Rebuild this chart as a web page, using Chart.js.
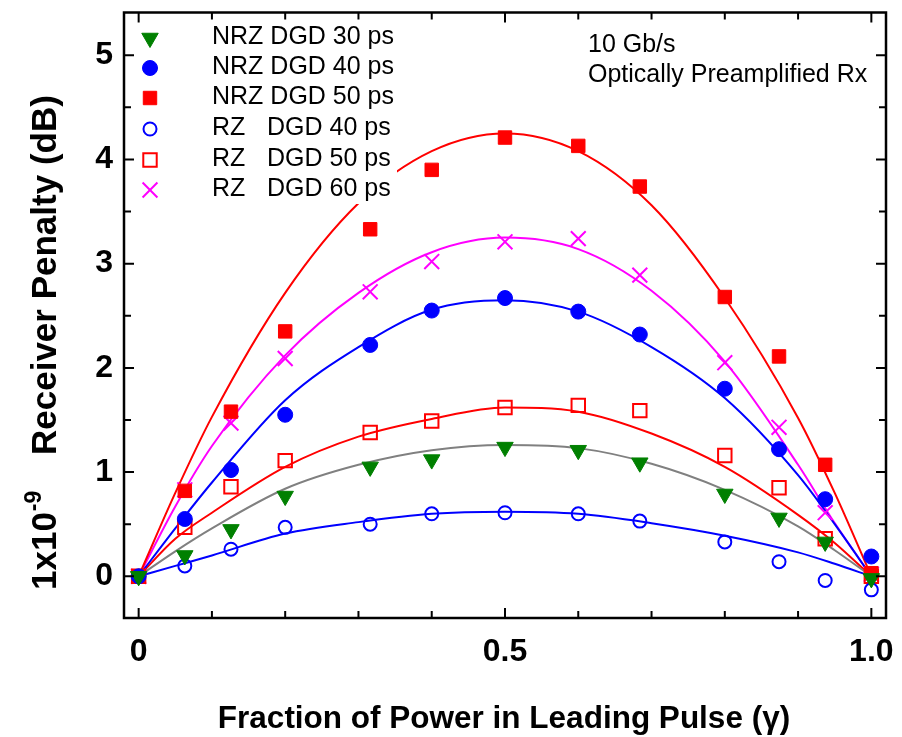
<!DOCTYPE html>
<html>
<head>
<meta charset="utf-8">
<script src="https://cdn.jsdelivr.net/npm/chart.js@4.4.1/dist/chart.umd.min.js"></script>
<style>
  body { margin: 0; background: #fff; }
  #chart { display: block; }
</style>
</head>
<body>
<canvas id="chart" width="902" height="737"></canvas>
<script>
// measured points
var gamma = [0, 0.063, 0.126, 0.2, 0.316, 0.4, 0.5, 0.6, 0.684, 0.8, 0.874, 0.937, 1.0];
var nrz30 = [0, 0.20, 0.45, 0.77, 1.05, 1.12, 1.24, 1.21, 1.09, 0.79, 0.56, 0.33, -0.02];
var nrz40 = [0, 0.55, 1.02, 1.55, 2.22, 2.55, 2.67, 2.54, 2.32, 1.80, 1.22, 0.74, 0.19];
var nrz50 = [0, 0.82, 1.58, 2.35, 3.33, 3.90, 4.21, 4.13, 3.74, 2.68, 2.11, 1.07, 0.03];
var rz40 = [0, 0.10, 0.26, 0.47, 0.50, 0.60, 0.61, 0.60, 0.53, 0.33, 0.14, -0.04, -0.13];
var rz50 = [0, 0.47, 0.86, 1.11, 1.38, 1.49, 1.62, 1.64, 1.59, 1.16, 0.85, 0.36, 0];
var rz60 = [0, 0.83, 1.47, 2.09, 2.73, 3.02, 3.21, 3.24, 2.89, 2.05, 1.43, 0.61, 0.02];

// fitted curves
var fitX = [0, 0.05, 0.1, 0.2, 0.3, 0.4, 0.5, 0.6, 0.7, 0.8, 0.9, 0.95, 1];
var fitNrz30 = [0, 0.24, 0.46, 0.84, 1.07, 1.21, 1.26, 1.23, 1.08, 0.83, 0.48, 0.25, 0];
var fitNrz40 = [0, 0.46, 0.90, 1.69, 2.20, 2.56, 2.65, 2.54, 2.20, 1.71, 0.97, 0.50, 0];
var fitNrz50 = [0, 0.80, 1.53, 2.72, 3.58, 4.08, 4.25, 4.08, 3.56, 2.67, 1.52, 0.80, 0];
var fitRz40 = [0, 0.10, 0.20, 0.41, 0.52, 0.60, 0.62, 0.60, 0.51, 0.39, 0.23, 0.12, 0];
var fitRz50 = [0, 0.36, 0.61, 1.05, 1.34, 1.51, 1.62, 1.58, 1.37, 1.05, 0.59, 0.32, 0];
var fitRz60 = [0, 0.67, 1.25, 2.12, 2.72, 3.11, 3.25, 3.14, 2.74, 2.06, 1.07, 0.51, 0];

var seriesNames = ["NRZ DGD 30 ps", "NRZ DGD 40 ps", "NRZ DGD 50 ps", "RZ   DGD 40 ps", "RZ   DGD 50 ps", "RZ   DGD 60 ps"];
var xTickValues = [0, 0.5, 1];
var xTickLabels = ["0", "0.5", "1.0"];
var yTickValues = [0, 1, 2, 3, 4, 5];

var FONT = "'Liberation Sans', Arial, Helvetica, sans-serif";

function pts(xs, ys) {
    return xs.map(function (x, i) { return { x: x, y: ys[i] }; });
}

function markers(label, ys, style) {
    return Object.assign({
        label: label,
        data: pts(gamma, ys),
        showLine: false,
    }, style);
}

function curve(ys, color) {
    return {
        label: "fit",
        data: pts(fitX, ys),
        showLine: true,
        borderColor: color,
        borderWidth: 2,
        pointRadius: 0,
        cubicInterpolationMode: "monotone",
        fill: false,
    };
}

var markerSets = [
    markers(seriesNames[0], nrz30, { pointStyle: "triangle", rotation: 180, pointRadius: 9.5, backgroundColor: "#008000", borderColor: "#008000", borderWidth: 1 }),
    markers(seriesNames[1], nrz40, { pointStyle: "circle", pointRadius: 7.5, backgroundColor: "#0000ff", borderColor: "#0000ff", borderWidth: 1 }),
    markers(seriesNames[2], nrz50, { pointStyle: "rect", pointRadius: 9.5, backgroundColor: "#ff0000", borderColor: "#ff0000", borderWidth: 1 }),
    markers(seriesNames[3], rz40, { pointStyle: "circle", pointRadius: 6.5, backgroundColor: "rgba(0,0,0,0)", borderColor: "#0000ff", borderWidth: 2 }),
    markers(seriesNames[4], rz50, { pointStyle: "rect", pointRadius: 9.5, backgroundColor: "rgba(0,0,0,0)", borderColor: "#ff0000", borderWidth: 2 }),
    markers(seriesNames[5], rz60, { pointStyle: "crossRot", pointRadius: 10.5, backgroundColor: "#ff00ff", borderColor: "#ff00ff", borderWidth: 2 }),
];

var curveSets = [
    curve(fitNrz30, "#808080"),
    curve(fitNrz40, "#0000ff"),
    curve(fitNrz50, "#ff0000"),
    curve(fitRz40, "#0000ff"),
    curve(fitRz50, "#ff0000"),
    curve(fitRz60, "#ff00ff"),
];

// frame + inward ticks on all four sides
var framePlugin = {
    id: "frame",
    afterDatasetsDraw: function (chart) {
        var c = chart.ctx, a = chart.chartArea;
        var xs = chart.scales.x, ys = chart.scales.y;
        c.save();
        // legend box is opaque, hides the curve behind it
        c.fillStyle = "#fff";
        c.fillRect(136, 18, 261, 186);
        c.strokeStyle = "#000";
        c.lineWidth = 2.5;
        c.strokeRect(a.left, a.top, a.right - a.left, a.bottom - a.top);
        c.lineWidth = 2;
        for (var i = 0; i <= 10; i++) {
            var v = i / 10;
            var px = xs.getPixelForValue(v);
            var len = (i % 5 === 0) ? 10 : 7;
            c.beginPath();
            c.moveTo(px, a.bottom); c.lineTo(px, a.bottom - len);
            c.moveTo(px, a.top); c.lineTo(px, a.top + len);
            c.stroke();
        }
        for (var j = 0; j <= 10; j++) {
            var py = ys.getPixelForValue(j / 2);
            var l2 = (j % 2 === 0) ? 10 : 7;
            c.beginPath();
            c.moveTo(a.left, py); c.lineTo(a.left + l2, py);
            c.moveTo(a.right, py); c.lineTo(a.right - l2, py);
            c.stroke();
        }
        c.restore();
    }
};

// legend, note and axis titles
var textPlugin = {
    id: "texts",
    afterDraw: function (chart) {
        var c = chart.ctx;
        c.save();
        c.fillStyle = "#000";
        c.textBaseline = "alphabetic";
        c.textAlign = "left";

        // legend
        var rowY = [38, 68, 98, 129, 160, 190];
        var baseY = [44, 74, 104, 135, 166, 196];
        c.font = "25px " + FONT;
        markerSets.forEach(function (ds, i) {
            c.save();
            c.fillStyle = ds.backgroundColor;
            c.strokeStyle = ds.borderColor;
            c.lineWidth = ds.borderWidth;
            Chart.helpers.drawPoint(c, {
                pointStyle: ds.pointStyle,
                radius: ds.pointRadius,
                rotation: ds.rotation || 0,
                borderWidth: ds.borderWidth
            }, 150, rowY[i]);
            c.restore();
            var name = seriesNames[i];
            if (name.indexOf("NRZ") === 0) {
                c.fillText(name, 212, baseY[i]);
            } else {
                c.fillText("RZ", 212, baseY[i]);
                c.fillText(name.replace(/^RZ\s+/, ""), 267, baseY[i]);
            }
        });

        // note
        c.fillText("10 Gb/s", 588, 52);
        c.fillText("Optically Preamplified Rx", 588, 82);

        // x title
        c.font = "bold 31.5px " + FONT;
        c.textAlign = "center";
        c.fillText("Fraction of Power in Leading Pulse (\u03b3)", 504, 728);

        // y title
        c.translate(56, 590);
        c.rotate(-Math.PI / 2);
        c.textAlign = "left";
        c.font = "bold 35px " + FONT;
        c.fillText("1x10", 0, 0);
        var w = c.measureText("1x10").width;
        c.font = "bold 23px " + FONT;
        c.fillText("-9", w + 1, -15);
        c.font = "bold 35px " + FONT;
        c.fillText("Receiver Penalty (dB)", 135, 0);
        c.restore();
    }
};

function noPad(s) {
    s.paddingTop = 0;
    s.paddingBottom = 0;
    s.paddingLeft = 0;
    s.paddingRight = 0;
}

var ctx = document.getElementById("chart").getContext("2d");
var myChart = new Chart(ctx, {
    type: "scatter",
    data: {
        datasets: markerSets.concat(curveSets),
    },
    options: {
        responsive: false,
        animation: false,
        layout: { padding: { left: 0, right: 16, top: 6, bottom: 0 } },
        plugins: {
            legend: { display: false },
            tooltip: { enabled: false },
        },
        scales: {
            x: {
                type: "linear",
                min: -0.02,
                max: 1.02,
                grid: { display: false, drawTicks: false },
                border: { display: false },
                afterBuildTicks: function (s) {
                    s.ticks = xTickValues.map(function (v) { return { value: v }; });
                },
                afterFit: function (s) { s.height = 119; noPad(s); },
                ticks: {
                    autoSkip: false,
                    maxRotation: 0,
                    padding: 15,
                    color: "#000",
                    font: { family: FONT, size: 32, weight: "bold" },
                    callback: function (v) {
                        var k = xTickValues.indexOf(v);
                        return k >= 0 ? xTickLabels[k] : "";
                    }
                }
            },
            y: {
                type: "linear",
                min: -0.4,
                max: 5.41,
                grid: { display: false, drawTicks: false },
                border: { display: false },
                afterBuildTicks: function (s) {
                    s.ticks = yTickValues.map(function (v) { return { value: v }; });
                },
                afterFit: function (s) { s.width = 124; noPad(s); },
                ticks: {
                    padding: 11,
                    color: "#000",
                    font: { family: FONT, size: 32, weight: "bold" },
                    callback: function (v) { return String(v); }
                }
            }
        }
    },
    plugins: [framePlugin, textPlugin],
});
</script>
</body>
</html>
